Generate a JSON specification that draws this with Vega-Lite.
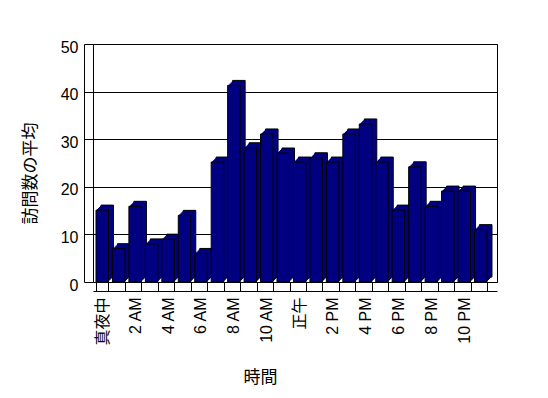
{
  "$schema": "https://vega.github.io/schema/vega-lite/v6.json",
  "width": 404,
  "height": 238,
  "autosize": {"type": "none"},
  "padding": {"left": 93, "top": 44, "right": 51, "bottom": 116},
  "background": "white",
  "config": {
    "view": {"stroke": "black", "strokeWidth": 1},
    "font": "Liberation Sans, Noto Sans CJK JP",
    "axis": {
      "domainColor": "black",
      "tickColor": "black",
      "labelColor": "black",
      "titleColor": "black",
      "titleFontWeight": "normal",
      "labelFont": "Liberation Sans, Noto Sans CJK JP",
      "titleFont": "Noto Sans CJK JP",
      "labelFontSize": 16,
      "titleFontSize": 17
    }
  },
  "data": {
    "values": [
      {"時間": "真夜中", "訪問数の平均": 15.1},
      {"時間": "1 AM", "訪問数の平均": 7},
      {"時間": "2 AM", "訪問数の平均": 15.9},
      {"時間": "3 AM", "訪問数の平均": 8},
      {"時間": "4 AM", "訪問数の平均": 9},
      {"時間": "5 AM", "訪問数の平均": 14},
      {"時間": "6 AM", "訪問数の平均": 6},
      {"時間": "7 AM", "訪問数の平均": 25.2},
      {"時間": "8 AM", "訪問数の平均": 41.3},
      {"時間": "9 AM", "訪問数の平均": 28.2},
      {"時間": "10 AM", "訪問数の平均": 31.1},
      {"時間": "11 AM", "訪問数の平均": 27.1},
      {"時間": "正午", "訪問数の平均": 25.2},
      {"時間": "1 PM", "訪問数の平均": 26.1},
      {"時間": "2 PM", "訪問数の平均": 25.2},
      {"時間": "3 PM", "訪問数の平均": 31.1},
      {"時間": "4 PM", "訪問数の平均": 33.2},
      {"時間": "5 PM", "訪問数の平均": 25.2},
      {"時間": "6 PM", "訪問数の平均": 15.1},
      {"時間": "7 PM", "訪問数の平均": 24.2},
      {"時間": "8 PM", "訪問数の平均": 15.9},
      {"時間": "9 PM", "訪問数の平均": 19.1},
      {"時間": "10 PM", "訪問数の平均": 19.1},
      {"時間": "11 PM", "訪問数の平均": 11}
    ]
  },
  "encoding": {
    "x": {
      "field": "時間",
      "type": "nominal",
      "sort": null,
      "scale": {"paddingInner": 0.24, "paddingOuter": 0.395, "align": 0.23},
      "axis": {
        "title": "時間",
        "offset": 9,
        "tickSize": -9,
        "tickBand": "extent",
        "labelAngle": -90,
        "labelPadding": 15,
        "labelOverlap": false,
        "labelExpr": "test(regexp('^(1|3|5|7|9|11) [AP]M$'), datum.value) ? '' : datum.value",
        "grid": false,
        "titlePadding": 24,
        "titleX": 167
      }
    },
    "y": {
      "field": "訪問数の平均",
      "type": "quantitative",
      "scale": {"domain": [0, 50], "nice": false},
      "axis": {
        "title": "訪問数の平均",
        "values": [0, 10, 20, 30, 40, 50],
        "offset": 9,
        "tickSize": -9,
        "labelPadding": 15,
        "labelOffset": 3,
        "grid": true,
        "gridColor": "black",
        "gridOpacity": 1,
        "titlePadding": 21,
        "titleY": 129
      }
    }
  },
  "layer": [
    {"mark": {"type": "bar", "color": "#000080", "stroke": "black", "strokeWidth": 1, "xOffset": 5, "yOffset": -5}},
    {"mark": {"type": "bar", "color": "#000080", "strokeWidth": 0, "xOffset": 4, "yOffset": -4}},
    {"mark": {"type": "bar", "color": "#000080", "strokeWidth": 0, "xOffset": 3, "yOffset": -3}},
    {"mark": {"type": "bar", "color": "#000080", "strokeWidth": 0, "xOffset": 2, "yOffset": -2}},
    {"mark": {"type": "bar", "color": "#000080", "strokeWidth": 0, "xOffset": 1, "yOffset": -1}},
    {"mark": {"type": "bar", "color": "#000080", "stroke": "black", "strokeWidth": 1}}
  ]
}
